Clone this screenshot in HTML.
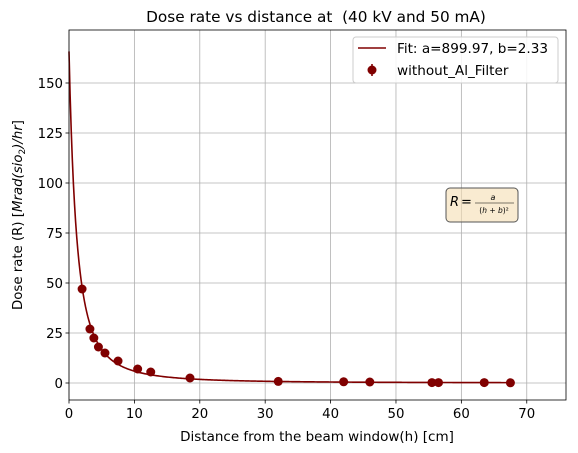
<!DOCTYPE html>
<html><head><meta charset="utf-8"><style>
body{margin:0;background:#fff}
svg{display:block;font-family:"DejaVu Sans","Liberation Sans",sans-serif}
</style></head><body>
<svg id="c" width="578" height="453"></svg>
<script>
const xs=[2,3.2,3.8,4.5,5.5,7.5,10.5,12.5,18.5,32,42,46,55.5,56.5,63.5,67.5];
const ys=[47,27,22.5,18,15,11,7,5.5,2.5,0.8,0.6,0.5,0.2,0.2,0.2,0.1];
const fitA=899.97, fitB=2.33;
const xTicks=[0,10,20,30,40,50,60,70];
const yTicks=[0,25,50,75,100,125,150];
const L=69,R=566,T=30,B=400,xmin=0,xmax=76,ymin=-8.5,ymax=176.5;
const X=v=>L+(v-xmin)/(xmax-xmin)*(R-L);
const Y=v=>B-(v-ymin)/(ymax-ymin)*(B-T);
const s=document.getElementById('c');const NS='http://www.w3.org/2000/svg';
function mk(t,a,txt){const e=document.createElementNS(NS,t);for(const k in a)e.setAttribute(k,a[k]);if(txt!=null)e.textContent=txt;s.appendChild(e);return e;}
let e;
xTicks.forEach(t=>{
e=mk('line',{x1:X(t),x2:X(t),y1:T,y2:B,stroke:'#b0b0b0','stroke-width':0.8});

e=mk('line',{x1:X(t),x2:X(t),y1:B,y2:B+3.5,stroke:'#000','stroke-width':0.8});

e=mk('text',{x:X(t),y:B+18,'font-size':13.3,'text-anchor':'middle'},t);

});
yTicks.forEach(t=>{
e=mk('line',{x1:L,x2:R,y1:Y(t),y2:Y(t),stroke:'#b0b0b0','stroke-width':0.8});

e=mk('line',{x1:L-3.5,x2:L,y1:Y(t),y2:Y(t),stroke:'#000','stroke-width':0.8});

e=mk('text',{x:L-6,y:Y(t)+5,'font-size':13.3,'text-anchor':'end'},t);

});
let d='';for(let i=0;i<=400;i++){const h=67.5*i/400;d+=(i?'L':'M')+X(h).toFixed(2)+','+Y(fitA/Math.pow(h+fitB,2)).toFixed(2);}
e=mk('path',{d:d,fill:'none',stroke:'#800000','stroke-width':1.6});

xs.forEach((x,i)=>{e=mk('circle',{cx:X(x),cy:Y(ys[i]),r:4.5,fill:'#800000'});
});
e=mk('rect',{x:L,y:T,width:R-L,height:B-T,fill:'none',stroke:'#000','stroke-width':0.8});

</script>
<svg style="position:absolute;left:0;top:0" width="578" height="453">
<text x="316" y="22" font-size="15.3" text-anchor="middle" xml:space="preserve" style="white-space:pre">Dose rate vs distance at  (40 kV and 50 mA)</text>
<text x="317" y="441" font-size="13.5" text-anchor="middle">Distance from the beam window(h) [cm]</text>
<text transform="translate(22,215) rotate(-90)" font-size="13.3" text-anchor="middle">Dose rate (R) [<tspan font-style="italic">Mrad(sio</tspan><tspan font-size="9" dy="3">2</tspan><tspan dy="-3" font-style="italic">)/hr</tspan>]</text>
<g>
<rect x="353" y="37" width="205" height="46" rx="3" fill="#fff" fill-opacity="0.85" stroke="#ccc"/>
<line x1="358" y1="48" x2="386" y2="48" stroke="#800000" stroke-width="1.6"/>
<text x="397" y="53" font-size="13.6">Fit: a=899.97, b=2.33</text>
<line x1="372" y1="64" x2="372" y2="76" stroke="#800000" stroke-width="1.6"/>
<circle cx="372" cy="70" r="4.5" fill="#800000"/>
<text x="397" y="75" font-size="13.6">without_Al_Filter</text>
</g>
<g>
<rect x="446" y="188" width="72" height="34" rx="4" fill="#f5deb3" fill-opacity="0.6" stroke="#555"/>
<text x="450" y="206" font-size="13" font-style="italic">R</text>
<text x="461" y="206" font-size="13">=</text>
<text x="493" y="200" font-size="8" font-style="italic" text-anchor="middle">a</text>
<line x1="475" y1="203" x2="514" y2="203" stroke="#000" stroke-width="0.6"/>
<text x="494" y="213" font-size="7.5" text-anchor="middle">(<tspan font-style="italic">h</tspan> + <tspan font-style="italic">b</tspan>)²</text>
</g>
</svg>
</body></html>
